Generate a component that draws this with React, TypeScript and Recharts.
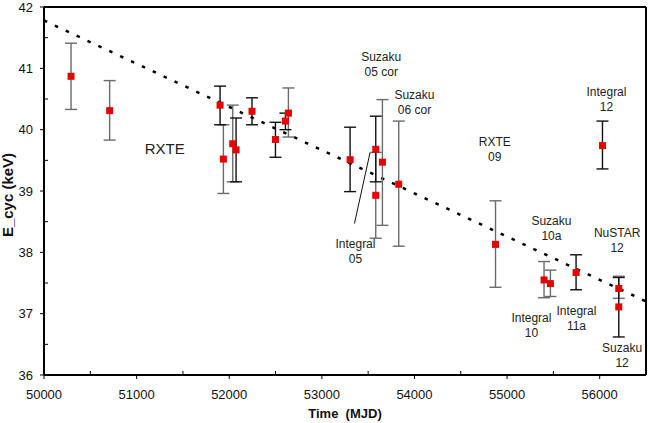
import React from "react";
import {
  ComposedChart,
  ErrorBar,
  ReferenceLine,
  Scatter,
  XAxis,
  YAxis,
} from "recharts";

// cyclotron line energy vs time
const MJD    = [50292, 50709, 51901, 51937, 52038, 52074, 52246, 52499, 52607, 52639, 53305, 53582, 53582, 53654, 53830, 54875, 55399, 55468, 55745, 56030, 56206, 56206];
const E_CYC  = [40.87, 40.31, 40.40, 39.52, 39.77, 39.67, 40.30, 39.84, 40.14, 40.27, 39.51, 39.68, 38.93, 39.47, 39.11, 38.13, 37.55, 37.49, 37.67, 39.74, 37.41, 37.11];
const E_HIGH = [41.41, 40.80, 40.71, 40.08, 40.40, 40.19, 40.52, 40.12, 40.27, 40.68, 40.04, 40.22, 39.63, 40.49, 40.14, 38.84, 37.85, 37.71, 37.96, 40.14, 37.61, 37.59];
const E_LOW  = [40.33, 39.83, 40.08, 38.96, 39.15, 39.15, 40.08, 39.55, 40.00, 39.88, 38.99, 39.15, 38.23, 38.44, 38.10, 37.43, 37.26, 37.28, 37.39, 39.36, 37.25, 36.62];

// points whose error bar is drawn grey instead of black
const GREY_BARS = [0, 1, 3, 4, 9, 12, 13, 14, 15, 16, 17, 20];

const X_TICKS = [50000, 50500, 51000, 51500, 52000, 52500, 53000, 53500, 54000, 54500, 55000, 55500, 56000, 56500];
const Y_TICKS = [36, 36.5, 37, 37.5, 38, 38.5, 39, 39.5, 40, 40.5, 41, 41.5, 42];

// linear fit (dotted)
const TREND_MJD = [50000, 56500];
const TREND_E   = [41.78, 37.2];

// leader line from "Integral 05" to its point
const LEADER_MJD = [53352, 53521];
const LEADER_E   = [38.47, 39.63];

const NOTE_TEXT = [
  ["Suzaku", "05 cor"],
  ["Suzaku", "06 cor"],
  ["RXTE", "09"],
  ["Integral", "12"],
  ["Integral", "05"],
  ["Suzaku", "10a"],
  ["NuSTAR", "12"],
  ["Integral", "10"],
  ["Integral", "11a"],
  ["Suzaku", "12"],
];
const NOTE_MJD = [53641, 54000, 54867, 56073, 53363, 55479, 56188, 55263, 55749, 56242];
const NOTE_E   = [41.18, 40.56, 39.80, 40.62, 38.13, 38.51, 38.31, 36.93, 37.04, 36.44];

const BIG_NOTE = "RXTE";
const BIG_NOTE_MJD = 51303;
const BIG_NOTE_E = 39.70;

const FONT = "'Liberation Sans', Arial, sans-serif";
const RED = "#e60000";

const points = MJD.map((x, i) => ({
  x,
  y: E_CYC[i],
  err: [E_CYC[i] - E_LOW[i], E_HIGH[i] - E_CYC[i]],
  grey: GREY_BARS.includes(i),
}));
const greyPoints = points.filter((p) => p.grey);
const blackPoints = points.filter((p) => !p.grey);

const notes = NOTE_TEXT.map((lines, i) => ({ x: NOTE_MJD[i], y: NOTE_E[i], lines }));
const bigNote = [{ x: BIG_NOTE_MJD, y: BIG_NOTE_E, lines: [BIG_NOTE] }];

const Hidden = () => <g />;

function Marker({ cx, cy }: any) {
  if (cx == null || cy == null) return <g />;
  return <rect x={cx - 3.5} y={cy - 3.5} width={7} height={7} fill={RED} />;
}

function NoteText({ cx, cy, payload, fontSize = 12 }: any) {
  if (cx == null || cy == null) return <g />;
  return (
    <text x={cx} textAnchor="middle" fontFamily={FONT} fontSize={fontSize} fill="#222">
      {payload.lines.map((t: string, k: number) => (
        <tspan key={k} x={cx} y={cy + k * 15} dominantBaseline="central">
          {t}
        </tspan>
      ))}
    </text>
  );
}

function XTick({ x, y, payload }: any) {
  const v = payload.value;
  const major = v % 1000 === 0;
  return (
    <g>
      <line x1={x} x2={x} y1={y} y2={major ? y + 4 : y - 4} stroke="#000" strokeWidth={1} />
      {major && (
        <text x={x} y={y + 19} textAnchor="middle" dominantBaseline="central" fontFamily={FONT} fontSize={13} fill="#111">
          {v}
        </text>
      )}
    </g>
  );
}

function YTick({ x, y, payload }: any) {
  const v = payload.value;
  const major = Number.isInteger(v);
  return (
    <g>
      <line x1={x} x2={major ? x - 4 : x + 4} y1={y} y2={y} stroke="#000" strokeWidth={1} />
      {major && (
        <text x={x - 11} y={y} textAnchor="end" dominantBaseline="central" fontFamily={FONT} fontSize={13} fill="#111">
          {v}
        </text>
      )}
    </g>
  );
}

export default function App() {
  return (
    <div style={{ position: "absolute", left: 0, top: 0, width: 650, height: 423, background: "#fff" }}>
      <ComposedChart width={650} height={423} margin={{ top: 7, right: 4, bottom: 18, left: 8 }}>
        <XAxis
          type="number"
          dataKey="x"
          domain={[50000, 56500]}
          ticks={X_TICKS}
          interval={0}
          tickSize={0}
          tickMargin={0}
          tick={<XTick />}
          tickLine={false}
          axisLine={{ stroke: "#000", strokeWidth: 2 }}
          height={30}
          allowDataOverflow
          label={{
            content: ({ viewBox }: any) => (
              <text
                x={viewBox.x + viewBox.width / 2}
                y={viewBox.y + 38.5}
                textAnchor="middle"
                dominantBaseline="central"
                fontFamily={FONT}
                fontSize={13}
                fontWeight="bold"
                fill="#111"
                style={{ whiteSpace: "pre" }}
              >
                {"Time  (MJD)"}
              </text>
            ),
          }}
        />
        <YAxis
          type="number"
          dataKey="y"
          domain={[36, 42]}
          ticks={Y_TICKS}
          interval={0}
          tickSize={0}
          tickMargin={0}
          tick={<YTick />}
          tickLine={false}
          axisLine={{ stroke: "#000", strokeWidth: 2 }}
          width={36}
          allowDataOverflow
          label={{
            content: ({ viewBox }: any) => (
              <text
                x={0}
                y={0}
                transform={`translate(${viewBox.x - 0.5}, ${viewBox.y + viewBox.height / 2 + 4}) rotate(-90)`}
                textAnchor="middle"
                dominantBaseline="central"
                fontFamily={FONT}
                fontSize={15}
                fontWeight="bold"
                fill="#111"
              >
                E_cyc (keV)
              </text>
            ),
          }}
        />

        {/* frame: top and right edges */}
        <ReferenceLine y={42} stroke="#000" strokeWidth={2} />
        <ReferenceLine x={56500} stroke="#000" strokeWidth={2} />

        <ReferenceLine
          segment={[
            { x: TREND_MJD[0], y: TREND_E[0] },
            { x: TREND_MJD[1], y: TREND_E[1] },
          ]}
          stroke="#000"
          strokeWidth={2.5}
          strokeDasharray="3.5 8.5"
        />
        <ReferenceLine
          segment={[
            { x: LEADER_MJD[0], y: LEADER_E[0] },
            { x: LEADER_MJD[1], y: LEADER_E[1] },
          ]}
          stroke="#111"
          strokeWidth={1}
        />

        <Scatter data={greyPoints} shape={Hidden} isAnimationActive={false}>
          <ErrorBar dataKey="err" direction="y" width={6} stroke="#6b6b6b" strokeWidth={1.4} isAnimationActive={false} />
        </Scatter>
        <Scatter data={blackPoints} shape={Hidden} isAnimationActive={false}>
          <ErrorBar dataKey="err" direction="y" width={6} stroke="#111" strokeWidth={1.4} isAnimationActive={false} />
        </Scatter>
        <Scatter data={points} shape={Marker} isAnimationActive={false} />

        <Scatter data={notes} shape={(p: any) => <NoteText {...p} />} isAnimationActive={false} />
        <Scatter data={bigNote} shape={(p: any) => <NoteText {...p} fontSize={15} />} isAnimationActive={false} />
      </ComposedChart>
    </div>
  );
}
